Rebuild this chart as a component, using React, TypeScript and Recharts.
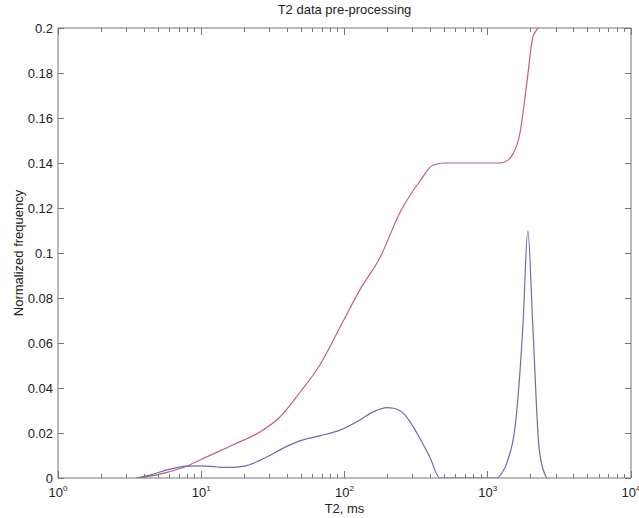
import { Line, LineChart, ReferenceLine, XAxis, YAxis } from 'recharts'

// cumulative curve (red)
const redT = [3.7, 5.75, 8.3, 9.8, 16.6, 25.6, 35.3, 48.8, 67, 93, 128, 177, 244, 336, 414, 500, 800, 1214, 1400, 1497, 1675, 1875, 2065, 2237, 2400]
const redV = [0, 0.0025, 0.0058, 0.008, 0.0147, 0.0204, 0.027, 0.038, 0.05, 0.067, 0.0836, 0.098, 0.118, 0.132, 0.139, 0.14, 0.14, 0.14, 0.1415, 0.144, 0.153, 0.1756, 0.196, 0.2, 0.205]

// T2 distribution (blue)
const blueT = [3.5, 4.5, 5.75, 7.9, 10, 13, 16, 20, 25, 28.7, 38, 48.8, 67, 93, 128, 160, 198, 220, 260, 290, 320, 394, 463, 600, 1000, 1159, 1250, 1360, 1590, 1758, 1905, 2065, 2290, 2580]
const blueV = [0, 0.0015, 0.0036, 0.0053, 0.0054, 0.0049, 0.0047, 0.0053, 0.0075, 0.0093, 0.0135, 0.0165, 0.0187, 0.0213, 0.0258, 0.0295, 0.0313, 0.031, 0.0285, 0.0245, 0.02, 0.0093, 0, 0, 0, 0, 0.002, 0.0067, 0.029, 0.067, 0.11, 0.067, 0.0124, 0]

const xTicks = [1, 2, 3, 4, 5, 6, 7, 8, 9, 10, 20, 30, 40, 50, 60, 70, 80, 90, 100, 200, 300, 400, 500, 600, 700, 800, 900, 1000, 2000, 3000, 4000, 5000, 6000, 7000, 8000, 9000, 10000]
const yTicks = [0, 0.02, 0.04, 0.06, 0.08, 0.1, 0.12, 0.14, 0.16, 0.18, 0.2]

const redData = redT.map((t, i) => ({ t, v: redV[i] }))
const blueData = blueT.map((t, i) => ({ t, v: blueV[i] }))

const FONT = '"Liberation Sans", Arial, sans-serif'
const AXIS = '#777'
const TICK = '#777'
const PLOT_W = 573
const PLOT_H = 450

// inward ticks on both bottom and top edges, labels as 10^n
const XTick = (props: any) => {
	const { x, y, payload } = props
	const lg = Math.log10(payload.value)
	const exp = Math.round(lg)
	const major = Math.abs(lg - exp) < 1e-6
	const len = major ? 7 : 4
	return (
		<g>
			<line x1={x} x2={x} y1={y} y2={y - len} stroke={TICK} strokeWidth={1} shapeRendering="crispEdges" />
			<line x1={x} x2={x} y1={y - PLOT_H} y2={y - PLOT_H + len} stroke={TICK} strokeWidth={1} shapeRendering="crispEdges" />
			{major && (
				<text x={x} y={y + 19} textAnchor="middle" fontSize={13} fontFamily={FONT} fill="#222">
					10
					<tspan dy={-6} fontSize={8}>
						{exp}
					</tspan>
				</text>
			)}
		</g>
	)
}

// inward ticks on left and right edges
const YTick = (props: any) => {
	const { x, y, payload } = props
	const label = String(Number(payload.value.toFixed(2)))
	return (
		<g>
			<line x1={x} x2={x + 6} y1={y} y2={y} stroke={TICK} strokeWidth={1} shapeRendering="crispEdges" />
			<line x1={x + PLOT_W} x2={x + PLOT_W - 6} y1={y} y2={y} stroke={TICK} strokeWidth={1} shapeRendering="crispEdges" />
			<text x={x - 5} y={y + 4.5} textAnchor="end" fontSize={13} fontFamily={FONT} fill="#222">
				{label}
			</text>
		</g>
	)
}

export default function App() {
	return (
		<div style={{ position: 'absolute', left: 0, top: 0, width: 639, height: 518, background: '#fff', fontFamily: FONT, color: '#222' }}>
			<LineChart width={639} height={518} margin={{ top: 28, right: 8, left: 0, bottom: 0 }}>
				<XAxis
					dataKey="t"
					type="number"
					scale="log"
					domain={[1, 10000]}
					ticks={xTicks}
					interval={0}
					tick={<XTick />}
					tickLine={false}
					tickSize={0}
					tickMargin={0}
					axisLine={{ stroke: AXIS }}
					height={40}
					allowDataOverflow
				/>
				<YAxis
					type="number"
					domain={[0, 0.2]}
					ticks={yTicks}
					interval={0}
					tick={<YTick />}
					tickLine={false}
					tickSize={0}
					tickMargin={0}
					axisLine={{ stroke: AXIS }}
					width={58}
					allowDataOverflow
				/>
				<ReferenceLine y={0.2} stroke={AXIS} />
				<ReferenceLine x={10000} stroke={AXIS} />
				<Line data={redData} dataKey="v" type="monotone" stroke="#c8606e" strokeWidth={1.2} dot={false} isAnimationActive={false} />
				<Line data={blueData} dataKey="v" type="monotone" stroke="#6a6ab8" strokeWidth={1.2} dot={false} isAnimationActive={false} />
			</LineChart>
			<div style={{ position: 'absolute', left: 58, width: PLOT_W, top: 2, textAlign: 'center', fontSize: 13, lineHeight: '16px' }}>
				T2 data pre-processing
			</div>
			<div style={{ position: 'absolute', left: 58, width: PLOT_W, top: 501, textAlign: 'center', fontSize: 13, lineHeight: '16px' }}>
				T2, ms
			</div>
			<div
				style={{
					position: 'absolute',
					left: 19,
					top: 253,
					transform: 'translate(-50%, -50%) rotate(-90deg)',
					whiteSpace: 'nowrap',
					fontSize: 13,
					lineHeight: '16px',
				}}
			>
				Normalized frequency
			</div>
		</div>
	)
}
